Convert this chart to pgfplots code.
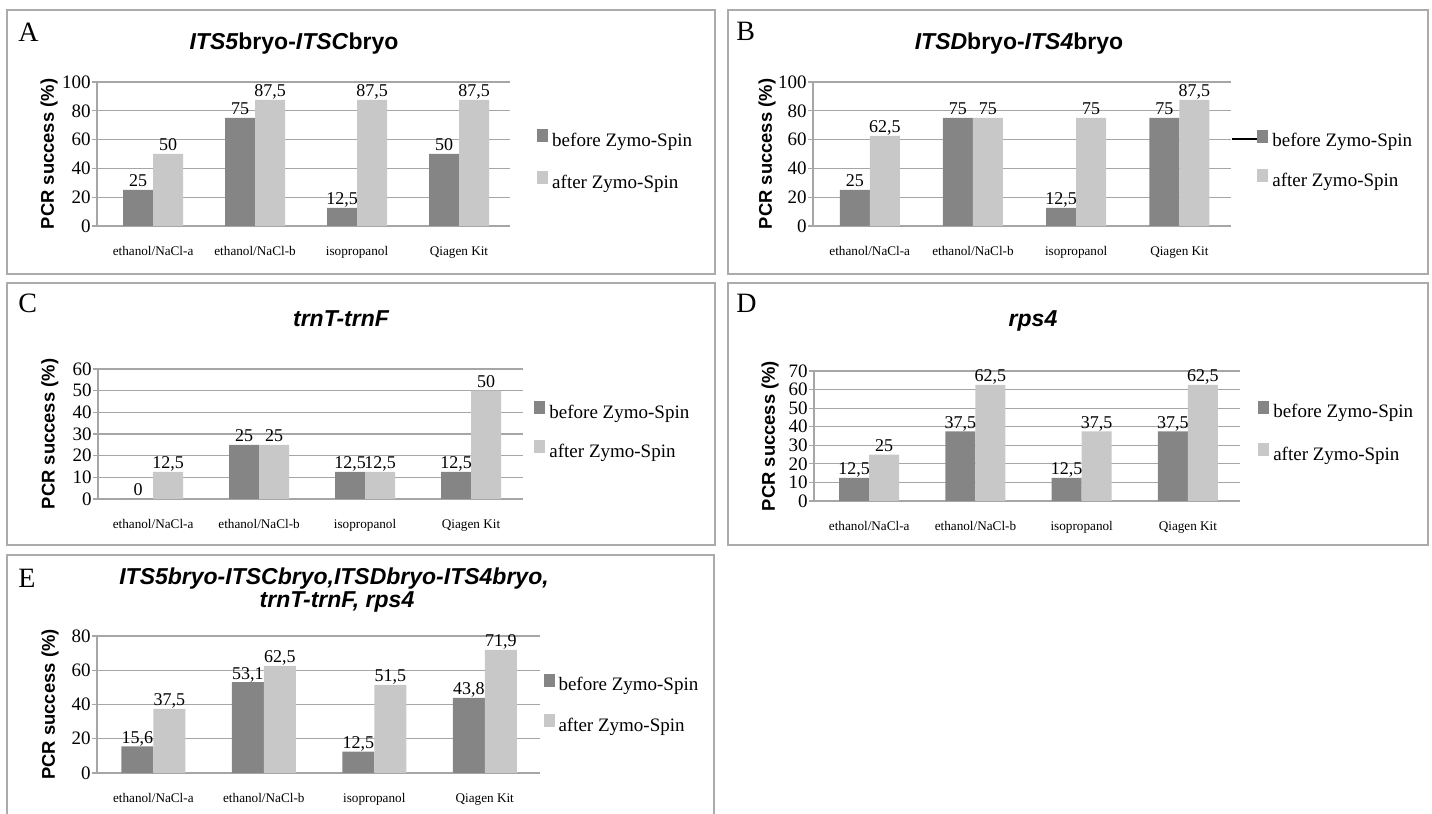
\documentclass[border=0pt]{standalone}
\usepackage{fontspec}
\setmainfont{Liberation Serif}
\setsansfont{Liberation Sans}
\usepackage{pgfplots}
\pgfplotsset{compat=1.18}
\definecolor{darkbar}{HTML}{858585}
\definecolor{lightbar}{HTML}{C8C8C8}
\definecolor{gridgray}{HTML}{A6A6A6}
\definecolor{framegray}{HTML}{ABABAB}

\pgfplotsset{
  panel/.style={
    ybar=0pt,
    scale only axis,
    anchor=south west,
    ymin=0,
    xtick={0,1,2,3},
    xticklabels={ethanol/NaCl-a, ethanol/NaCl-b, isopropanol, Qiagen Kit},
    x tick style={draw=none},
    axis x line*=bottom,
    axis y line*=left,
    axis line style={gridgray, line width=0.6pt, -},
    ymajorgrids,
    grid style={gridgray, line width=0.6pt},
    tick align=outside,
    y tick style={gridgray, line width=0.6pt},
    major tick length=2.5pt,
    /pgf/number format/assume math mode=true,
    /pgf/number format/use comma,
    yticklabel style={font=\fontsize{9.5}{9.5}\selectfont, inner sep=0.5pt},
    xticklabel style={font=\fontsize{6.6}{7}\selectfont, anchor=base, yshift=-12.5pt},
    nodes near coords,
    every node near coord/.append style={font=\fontsize{9}{9}\selectfont, inner sep=0pt, anchor=base, yshift=1.5pt, black},
    ylabel={PCR success (\%)},
    ylabel style={font=\sffamily\bfseries\fontsize{9.2}{10}\selectfont, anchor=center},
    legend image code/.code={\fill[##1] (0pt,-0.5pt) rectangle (5.5pt,6pt);},
    legend style={draw=none, fill=none, inner sep=0pt, anchor=west,
      nodes={inner sep=0pt, font=\fontsize{9.5}{10}\selectfont},
      /tikz/every odd column/.append style={column sep=2pt}},
    legend cell align=left,
  },
  before/.style={fill=darkbar, draw=none},
  after/.style={fill=lightbar, draw=none},
}

\begin{document}
\begin{tikzpicture}
\path[use as bounding box] (0pt,0pt) rectangle (716pt,407pt);
% frames
\draw[framegray, line width=0.8pt] (3.5pt,270pt) rectangle (357.5pt,402pt);
\draw[framegray, line width=0.8pt] (364pt,270pt) rectangle (714pt,402pt);
\draw[framegray, line width=0.8pt] (3.5pt,134.5pt) rectangle (357.5pt,265.5pt);
\draw[framegray, line width=0.8pt] (364pt,134.5pt) rectangle (714pt,265.5pt);
\draw[framegray, line width=0.8pt] (3.5pt,-2pt) -- (3.5pt,129.5pt) -- (357pt,129.5pt) -- (357pt,-2pt);
% panel letters
\node[anchor=base west, inner sep=0pt, font=\fontsize{14}{14}\selectfont] at (9pt,386pt) {A};
\node[anchor=base west, inner sep=0pt, font=\fontsize{14}{14}\selectfont] at (368pt,386.5pt) {B};
\node[anchor=base west, inner sep=0pt, font=\fontsize{14}{14}\selectfont] at (9pt,250.5pt) {C};
\node[anchor=base west, inner sep=0pt, font=\fontsize{14}{14}\selectfont] at (368pt,250.5pt) {D};
\node[anchor=base west, inner sep=0pt, font=\fontsize{14}{14}\selectfont] at (9pt,113pt) {E};
% titles
\node[anchor=base, inner sep=0pt, font=\sffamily\bfseries\fontsize{11.5}{12}\selectfont] at (147pt,382pt) {\textit{ITS5}bryo-\textit{ITSC}bryo};
\node[anchor=base, inner sep=0pt, font=\sffamily\bfseries\fontsize{11.5}{12}\selectfont] at (509.5pt,382pt) {\textit{ITSD}bryo-\textit{ITS4}bryo};
\node[anchor=base, inner sep=0pt, font=\sffamily\bfseries\itshape\fontsize{11.5}{12}\selectfont] at (170.5pt,243.5pt) {trnT-trnF};
\node[anchor=base, inner sep=0pt, font=\sffamily\bfseries\itshape\fontsize{11.5}{12}\selectfont] at (516.5pt,243.5pt) {rps4};
\node[anchor=base, inner sep=0pt, font=\sffamily\bfseries\itshape\fontsize{11.5}{12}\selectfont] at (167pt,114.5pt) {ITS5bryo-ITSCbryo,ITSDbryo-ITS4bryo,};
\node[anchor=base, inner sep=0pt, font=\sffamily\bfseries\itshape\fontsize{11.5}{12}\selectfont] at (168.5pt,103pt) {trnT-trnF, rps4};
% stray line in B
\draw[black, line width=0.6pt] (616pt,337.5pt) -- (628.5pt,337.5pt);

% Panel A
\begin{axis}[panel, at={(48.5pt,294pt)}, width=206.5pt, height=72pt,
  xmin=-0.55, xmax=3.5, ymax=100, ytick={0,20,...,100}, bar width=15pt,
  ylabel style={at={(axis description cs:-0.116,0.5)}},
  legend style={at={(axis description cs:1.065,0.456)}, row sep=11pt}]
\addplot[before] coordinates {(0,25) (1,75) (2,12.5) (3,50)};
\addplot[after] coordinates {(0,50) (1,87.5) (2,87.5) (3,87.5)};
\legend{before Zymo-Spin, after Zymo-Spin}
\end{axis}

% Panel B
\begin{axis}[panel, at={(406.5pt,294pt)}, width=209pt, height=72pt,
  xmin=-0.55, xmax=3.5, ymax=100, ytick={0,20,...,100}, bar width=15pt,
  ylabel style={at={(axis description cs:-0.110,0.5)}},
  legend style={at={(axis description cs:1.062,0.462)}, row sep=9.7pt}]
\addplot[before] coordinates {(0,25) (1,75) (2,12.5) (3,75)};
\addplot[after] coordinates {(0,62.5) (1,75) (2,75) (3,87.5)};
\legend{before Zymo-Spin, after Zymo-Spin}
\end{axis}

% Panel C
\begin{axis}[panel, at={(49pt,157.5pt)}, width=212.5pt, height=65pt,
  xmin=-0.52, xmax=3.49, ymax=60, ytick={0,10,...,60}, bar width=15pt,
  ylabel style={at={(axis description cs:-0.113,0.5)}},
  legend style={at={(axis description cs:1.026,0.525)}, row sep=9.5pt}]
\addplot[before] coordinates {(0,0) (1,25) (2,12.5) (3,12.5)};
\addplot[after] coordinates {(0,12.5) (1,25) (2,12.5) (3,50)};
\legend{before Zymo-Spin, after Zymo-Spin}
\end{axis}

% Panel D
\begin{axis}[panel, at={(407pt,156.5pt)}, width=213pt, height=65pt,
  xmin=-0.52, xmax=3.49, ymax=70, ytick={0,10,...,70}, bar width=15pt,
  ylabel style={at={(axis description cs:-0.103,0.5)}},
  legend style={at={(axis description cs:1.042,0.531)}, row sep=11.2pt}]
\addplot[before] coordinates {(0,12.5) (1,37.5) (2,12.5) (3,37.5)};
\addplot[after] coordinates {(0,25) (1,62.5) (2,37.5) (3,62.5)};
\legend{before Zymo-Spin, after Zymo-Spin}
\end{axis}

% Panel E
\begin{axis}[panel, at={(48.5pt,20.5pt)}, width=221.5pt, height=68.5pt,
  xmin=-0.51, xmax=3.5, ymax=80, ytick={0,20,...,80}, bar width=16pt,
  ylabel style={at={(axis description cs:-0.106,0.5)}},
  legend style={at={(axis description cs:1.007,0.504)}, row sep=10.2pt}]
\addplot[before] coordinates {(0,15.6) (1,53.1) (2,12.5) (3,43.8)};
\addplot[after] coordinates {(0,37.5) (1,62.5) (2,51.5) (3,71.9)};
\legend{before Zymo-Spin, after Zymo-Spin}
\end{axis}
\end{tikzpicture}
\end{document}
